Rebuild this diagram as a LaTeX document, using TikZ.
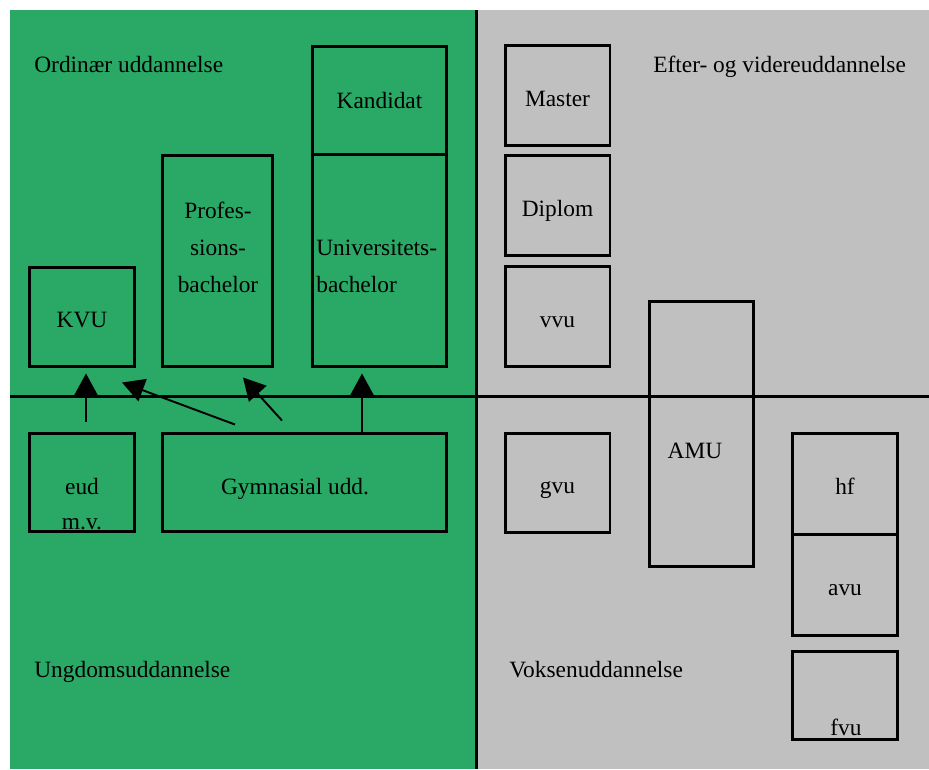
\documentclass[tikz,border=0pt]{standalone}
\usepackage{fontspec}
\setmainfont{Liberation Serif}
\usetikzlibrary{arrows.meta}
\definecolor{groen}{RGB}{42,168,101}
\definecolor{graa}{RGB}{192,192,192}

\begin{document}
\begin{tikzpicture}[x=0.02cm,y=-0.02cm,
  box/.style={draw,line width=1.7pt,inner sep=0pt,font=\fontsize{13.3}{21}\selectfont},
  lbl/.style={inner sep=0pt,font=\fontsize{13.3}{21}\selectfont},
  pil/.style={line width=1.1pt,-{Triangle[length=0.44cm,width=0.47cm]}}]
\useasboundingbox (0,0) rectangle (929,769);
\fill[groen] (10,10) rectangle (476,769);
\fill[graa] (476,10) rectangle (929,769);
\draw[line width=1.7pt] (476,10) -- (476,769);
\draw[line width=1.7pt] (10,396) -- (929,396);

\node[lbl,anchor=base west] (ordinaer) at (34,72) {Ordinær uddannelse};
\node[lbl,anchor=base west] (efter) at (653,72) {Efter- og videreuddannelse};
\node[lbl,anchor=base west] (ungdom) at (34,677) {Ungdomsuddannelse};
\node[lbl,anchor=base west] (voksen) at (509,677) {Voksenuddannelse};

\foreach \navn/\x/\y/\h/\tekst in {kvu/82/317/1.98/KVU, master/557.5/95.5/2.0/Master,
    diplom/557.5/205.5/2.0/Diplom, vvu/557.5/316.5/2.0/vvu, gvu/557.5/483/1.98/gvu,
    hf/845/483.75/2.01/hf, avu/845/584.75/2.03/avu} {
  \node[box,minimum width=2.1cm,minimum height=\h cm,text height=12.4pt,text depth=0pt] (\navn) at (\x,\y) {\tekst};
}
\node[box,minimum width=2.68cm,minimum height=2.16cm] (kandidat) at (379.5,100) {Kandidat};
\node[box,minimum width=2.2cm,minimum height=4.22cm] (prof) at (217.5,261) {};
\node[lbl,align=center] (prof_t) at (218,247) {Profes-\\sions-\\bachelor};
\node[box,minimum width=2.68cm,minimum height=4.24cm] (univ) at (379.5,260.5) {};
\node[lbl,align=left,anchor=west] (univ_t) at (316,266) {Universitets-\\bachelor};
\node[box,minimum width=2.1cm,minimum height=1.96cm] (eud) at (82,482.5) {};
\node[lbl,align=center,font=\fontsize{13.3}{20}\selectfont] (eud_t) at (82,504) {eud\\m.v.};
\node[box,minimum width=5.68cm,minimum height=1.96cm] (gym) at (304.5,482.5) {};
\node[lbl] (gym_t) at (295,489) {Gymnasial udd.};
\node[box,minimum width=2.08cm,minimum height=5.3cm] (amu) at (701.5,434) {};
\node[lbl] (amu_t) at (695,451) {AMU};
\node[box,minimum width=2.1cm,minimum height=1.76cm] (fvu) at (845,695.5) {};
\node[lbl] (fvu_t) at (846,727) {fvu};

\draw[pil] ([shift={(4,-10)}]eud.north) -- ([shift={(4,5.5)}]kvu.south);
\draw[pil] ([shift={(-69.5,-7.5)}]gym.north) -- ([shift={(40,14.5)}]kvu.south);
\draw[pil] ([shift={(-22.5,-11.5)}]gym.north) -- ([shift={(25.5,9.5)}]prof.south);
\draw[pil] ([shift={(57.5,0)}]gym.north) -- ([shift={(-17.5,5.5)}]univ.south);
\end{tikzpicture}
\end{document}
